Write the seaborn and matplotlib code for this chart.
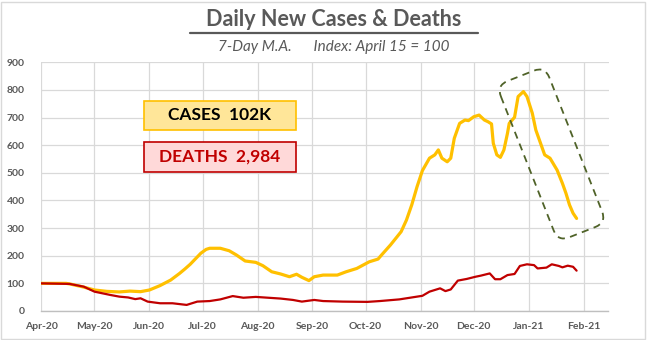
import matplotlib
matplotlib.use("Agg")
import matplotlib.pyplot as plt
import matplotlib.dates as mdates
from matplotlib.patches import FancyBboxPatch, Rectangle
from matplotlib.lines import Line2D
from matplotlib.transforms import Affine2D, IdentityTransform
import pandas as pd
import seaborn as sns

# ---------------- data ----------------
case_dates = ["2020-04-01", "2020-04-08", "2020-04-15", "2020-04-17", "2020-04-24", "2020-05-01",
              "2020-05-08", "2020-05-15", "2020-05-21", "2020-05-27", "2020-06-01", "2020-06-07",
              "2020-06-13", "2020-06-18", "2020-06-21", "2020-06-24", "2020-06-30", "2020-07-03",
              "2020-07-05", "2020-07-11", "2020-07-16", "2020-07-20", "2020-07-25", "2020-07-31",
              "2020-08-04", "2020-08-09", "2020-08-14", "2020-08-19", "2020-08-23", "2020-08-26",
              "2020-08-30", "2020-09-02", "2020-09-07", "2020-09-15", "2020-09-20", "2020-09-26",
              "2020-10-03", "2020-10-08", "2020-10-10", "2020-10-15", "2020-10-18", "2020-10-21",
              "2020-10-24", "2020-10-27", "2020-10-30", "2020-11-02", "2020-11-06", "2020-11-09",
              "2020-11-11", "2020-11-13", "2020-11-16", "2020-11-18", "2020-11-20", "2020-11-23",
              "2020-11-26", "2020-11-28", "2020-12-01", "2020-12-04", "2020-12-07", "2020-12-09",
              "2020-12-11", "2020-12-12", "2020-12-14", "2020-12-16", "2020-12-18", "2020-12-20",
              "2020-12-21", "2020-12-24", "2020-12-26", "2020-12-29", "2020-12-31", "2021-01-03",
              "2021-01-05", "2021-01-08", "2021-01-10", "2021-01-13", "2021-01-17", "2021-01-20",
              "2021-01-22", "2021-01-24", "2021-01-26", "2021-01-28"]
case_values = [100, 100, 100, 98, 88, 76,
               71, 69, 72, 70, 76, 92,
               112, 136, 152, 169, 209, 223,
               227, 227, 218, 203, 181, 176,
               164, 142, 134, 124, 133, 122,
               110, 124, 130, 130, 142, 154,
               178, 188, 203, 239, 263, 287,
               329, 384, 450, 508, 553, 565,
               583, 553, 540, 553, 625, 679,
               691, 689, 703, 709, 691, 685,
               677, 607, 565, 556, 583, 643,
               679, 701, 776, 794, 776, 716,
               655, 601, 565, 553, 510, 462,
               426, 384, 354, 335]

death_dates = ["2020-04-01", "2020-04-17", "2020-04-25", "2020-05-01", "2020-05-10", "2020-05-15",
               "2020-05-20", "2020-05-24", "2020-05-27", "2020-05-31", "2020-06-07", "2020-06-14",
               "2020-06-22", "2020-06-28", "2020-07-05", "2020-07-11", "2020-07-18", "2020-07-24",
               "2020-07-31", "2020-08-07", "2020-08-14", "2020-08-21", "2020-08-26", "2020-09-02",
               "2020-09-07", "2020-09-18", "2020-10-02", "2020-10-09", "2020-10-20", "2020-11-02",
               "2020-11-06", "2020-11-12", "2020-11-15", "2020-11-18", "2020-11-22", "2020-11-27",
               "2020-12-02", "2020-12-05", "2020-12-10", "2020-12-13", "2020-12-16", "2020-12-20",
               "2020-12-24", "2020-12-27", "2020-12-31", "2021-01-04", "2021-01-06", "2021-01-11",
               "2021-01-14", "2021-01-18", "2021-01-20", "2021-01-23", "2021-01-26", "2021-01-28"]
death_values = [100, 98, 88, 70, 58, 52,
                49, 43, 46, 34, 28, 28,
                22, 34, 36, 42, 54, 48,
                51, 48, 45, 40, 34, 40,
                36, 34, 33, 36, 42, 55,
                70, 82, 72, 78, 110, 116,
                124, 128, 136, 115, 115, 130,
                134, 163, 169, 166, 154, 157,
                169, 163, 158, 164, 160, 146]

title = "Daily New Cases & Deaths"
subtitle = "7-Day M.A.      Index: April 15 = 100"
cases_label = "CASES  102K"
deaths_label = "DEATHS  2,984"
y_ticks = [0, 100, 200, 300, 400, 500, 600, 700, 800, 900]
x_tick_dates = ["2020-04-01", "2020-05-01", "2020-06-01", "2020-07-01", "2020-08-01", "2020-09-01",
                "2020-10-01", "2020-11-01", "2020-12-01", "2021-01-01", "2021-02-01"]

cases_df = pd.DataFrame({"date": pd.to_datetime(case_dates), "value": case_values})
deaths_df = pd.DataFrame({"date": pd.to_datetime(death_dates), "value": death_values})

# ---------------- style ----------------
sns.set_style("white")
plt.rcParams["font.family"] = ["Lato", "DejaVu Sans"]

W, H = 647, 340
fig = plt.figure(figsize=(W / 100, H / 100), dpi=100)
ax = fig.add_axes([41.3 / W, 1 - 311 / H, (608.5 - 41.3) / W, (311 - 62.3) / H])

GRID = "#D9D9D9"
TXT = "#595959"

sns.lineplot(data=cases_df, x="date", y="value", ax=ax, color="#FFC000", linewidth=2.3, zorder=3)
sns.lineplot(data=deaths_df, x="date", y="value", ax=ax, color="#C00000", linewidth=1.6, zorder=4)

ax.set_ylim(0, 900)
ax.set_xlim(pd.Timestamp("2020-04-01"), pd.Timestamp("2021-02-15"))
ax.set_yticks(y_ticks)
ax.set_xticks(pd.to_datetime(x_tick_dates))
ax.xaxis.set_major_formatter(mdates.DateFormatter("%b-%y"))
ax.grid(True, color=GRID, linewidth=0.9)
ax.set_axisbelow(True)
for s in ["top", "right", "left"]:
    ax.spines[s].set_visible(False)
ax.spines["bottom"].set_color("#BFBFBF")
ax.spines["bottom"].set_linewidth(1.0)
ax.tick_params(axis="both", length=0, labelsize=7.5, labelcolor=TXT)
ax.tick_params(axis="x", pad=8)
ax.tick_params(axis="y", pad=12)
for lab in ax.get_xticklabels() + ax.get_yticklabels():
    lab.set_fontweight("bold")
ax.set_xlabel("")
ax.set_ylabel("")

# title + underline
fig.text(334 / W, 1 - 20 / H, title, ha="center", va="center", fontsize=15.5,
         fontweight="bold", color=TXT)
fig.add_artist(Line2D([190 / W, 478 / W], [1 - 33 / H, 1 - 33 / H], color=TXT, linewidth=1.6,
                      transform=fig.transFigure))
fig.text(334 / W, 1 - 47 / H, subtitle, ha="center", va="center", fontsize=11,
         fontstyle="italic", color=TXT)

# label boxes
def label_box(x0, y0, x1, y1, face, edge, text, tcolor):
    fig.add_artist(Rectangle((x0 / W, 1 - y1 / H), (x1 - x0) / W, (y1 - y0) / H,
                             transform=fig.transFigure, facecolor=face, edgecolor=edge,
                             linewidth=1.2, zorder=5))
    fig.text((x0 + x1) / 2 / W, 1 - (y0 + y1) / 2 / H, text, ha="center", va="center",
             fontsize=12.5, fontweight="bold", color=tcolor, zorder=6)

label_box(144.3, 100.7, 295.7, 130, "#FFE699", "#FFC000", cases_label, "#000000")
label_box(144.3, 142.3, 295.7, 171.7, "#FFD9D9", "#C00000", deaths_label, "#C00000")

# dashed rotated rounded rectangle
w_rect, h_rect = 168, 52
tr = Affine2D().rotate_deg(-68.5).translate(551.5, H - 154) + IdentityTransform()
fig.add_artist(FancyBboxPatch((-w_rect / 2, -h_rect / 2), w_rect, h_rect,
                              boxstyle="round,pad=0,rounding_size=12",
                              transform=tr, facecolor="none", edgecolor="#4F6228",
                              linewidth=1.3, linestyle=(0, (4, 3)), zorder=6))

# outer border
fig.add_artist(Rectangle((1 / W, 1 / H), (W - 3) / W, (H - 3) / H, transform=fig.transFigure,
                         facecolor="none", edgecolor=GRID, linewidth=1.0))

fig.savefig("out.png", dpi=100)
